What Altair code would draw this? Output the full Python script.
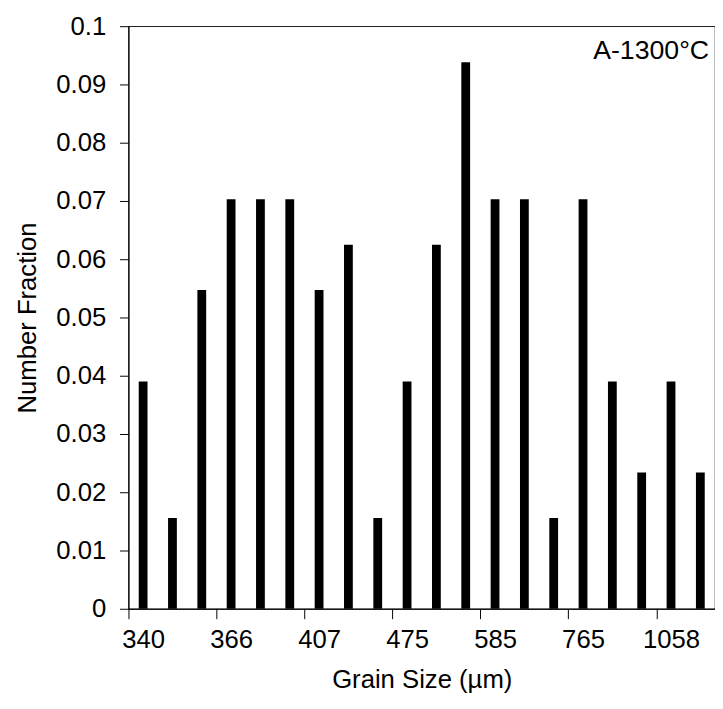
import altair as alt
import pandas as pd

# ---- data ----
bin_index = list(range(1, 21))
fractions = [0.039, 0.0156, 0.0547, 0.0703, 0.0703, 0.0703, 0.0547, 0.0625,
             0.0156, 0.039, 0.0625, 0.0938, 0.0703, 0.0703, 0.0156, 0.0703,
             0.039, 0.0234, 0.039, 0.0234]
tick_bins = [1, 4, 7, 10, 13, 16, 19]
tick_labels = ["340", "366", "407", "475", "585", "765", "1058"]
y_ticks = [0, 0.01, 0.02, 0.03, 0.04, 0.05, 0.06, 0.07, 0.08, 0.09, 0.1]
annotation = "A-1300°C"

df = pd.DataFrame({"bin": bin_index, "fraction": fractions})

# label expression mapping bin index -> tick label
expr = "''"
for b, lab in reversed(list(zip(tick_bins, tick_labels))):
    expr = f"datum.value == {b} ? '{lab}' : ({expr})"

FONT = "Liberation Sans"
W, H = 594, 590
step = W / len(bin_index)

bars = alt.Chart(df).mark_bar(color="black").encode(
    x=alt.X(
        "bin:O",
        sort=None,
        scale=alt.Scale(paddingInner=0.7, paddingOuter=0.35),
        axis=alt.Axis(
            values=tick_bins,
            labelExpr=expr,
            labelAngle=0,
            tickOffset=-step / 2,
            labelOffset=step / 2,
            tickSize=10,
            labelPadding=8,
            labelFontSize=26,
            labelFont=FONT,
            labelColor="black",
            title="Grain Size (µm)",
            titleFontSize=26,
            titleFont=FONT,
            titleFontWeight="normal",
            titleColor="black",
            titlePadding=15,
            domainColor="black",
            tickColor="black",
        ),
    ),
    y=alt.Y(
        "fraction:Q",
        scale=alt.Scale(domain=[0, 0.1], nice=False),
        axis=alt.Axis(
            values=y_ticks,
            format="~g",
            tickSize=9,
            labelPadding=14,
            labelFontSize=26,
            labelFont=FONT,
            labelColor="black",
            title="Number Fraction",
            titleFontSize=26,
            titleFont=FONT,
            titleFontWeight="normal",
            titleColor="black",
            titlePadding=16,
            domainColor="black",
            tickColor="black",
            grid=False,
        ),
    ),
)

label = alt.Chart(pd.DataFrame({"t": [annotation]})).mark_text(
    align="right", baseline="alphabetic", fontSize=27, font=FONT, color="black"
).encode(
    x=alt.value(W - 6),
    y=alt.value(33),
    text="t:N",
)

chart = alt.layer(bars, label).properties(
    width=W,
    height=H,
    padding={"left": 6, "top": 1, "right": 0, "bottom": 5},
).configure_view(stroke="#222", strokeWidth=1.2)

chart.save("out.html", embed_options={"renderer": "svg", "actions": False})
